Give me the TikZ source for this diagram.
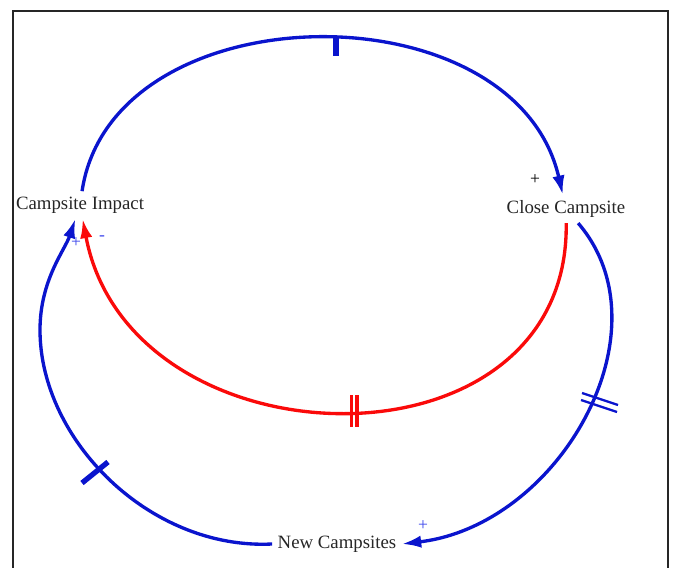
\documentclass[tikz,border=0pt]{standalone}
\usepackage{fontspec}
\setmainfont{Liberation Serif}
\usepackage{xcolor}
\usetikzlibrary{arrows.meta}
\definecolor{linkblue}{RGB}{10,20,205}
\definecolor{linkred}{RGB}{250,10,10}
\definecolor{signblue}{RGB}{60,70,235}
\tikzset{
  varnode/.style={inner sep=3pt, text=black!85, font=\fontsize{10.7}{12.8}\selectfont},
  bluelink/.style={draw=linkblue, line width=1.9pt, -{Latex[length=11pt,width=7pt]}},
  redlink/.style={draw=linkred, line width=1.9pt, -{Latex[length=11pt,width=7pt]}},
  signnode/.style={inner sep=0pt, font=\fontsize{10}{12}\selectfont},
  delaybar/.style={line width=2pt, line cap=butt}
}
\begin{document}
\begin{tikzpicture}[x=0.02cm, y=-0.02cm]
\useasboundingbox (0,0) rectangle (673,568);
% frame
\draw[line width=1.2pt, black!85] (13,600) -- (13,11) -- (668,11) -- (668,600);
% variables
\node[varnode] (impact) at (80,205) {Campsite Impact};
\node[varnode] (close) at (566,209) {Close Campsite};
\node[varnode] (newc) at (337,544) {New Campsites};
% links
\draw[bluelink] (impact) .. controls (112,-10) and (515,-15) .. (close);
\draw[bluelink] (close) .. controls (670,330) and (560,525) .. (newc.east);
\draw[bluelink] (newc.west) .. controls (150,550) and (40,440) .. (40,330)
  .. controls (40,280) and (65,250) .. (impact);
\draw[redlink] (close) .. controls (570,480) and (130,470) .. (impact);
% delay marks
\fill[linkblue] (333,38) rectangle (339,56);
\draw[delaybar, linkred] (351.5,395) -- (351.5,427);
\draw[delaybar, linkred] (357,395) -- (357,427);
\draw[delaybar, linkblue, line width=1.3pt] (582,393) -- (618,405);
\draw[delaybar, linkblue, line width=1.3pt] (581,400) -- (617,412);
\draw[delaybar, linkblue, line width=3pt] (82,483) -- (108,462);
% polarities
\node[signnode] (s1) at (535,180) {+};
\node[signnode, text=signblue] (s2) at (423,526) {+};
\node[signnode, text=signblue] (s3) at (76,243) {+};
\node[signnode, text=signblue] (s4) at (102,238) {-};
\end{tikzpicture}
\end{document}
